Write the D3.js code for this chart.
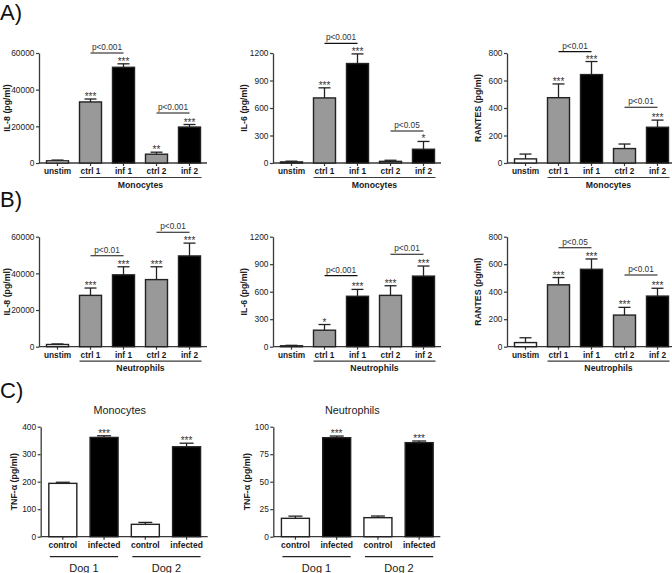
<!DOCTYPE html>
<html><head><meta charset="utf-8">
<script src="https://cdn.jsdelivr.net/npm/d3@7"></script>
<style>
html,body{margin:0;padding:0;background:#fff;}
svg{display:block;font-family:"Liberation Sans",Arial,sans-serif;}
svg text{font-family:"Liberation Sans",Arial,sans-serif;}
</style></head>
<body>
<svg id="chart" width="672" height="573"></svg>
<script>
// ---------- data ----------
const categories = ["unstim", "ctrl 1", "inf 1", "ctrl 2", "inf 2"];
const groupKinds = ["unstim", "ctrl", "inf", "ctrl", "inf"];

const il8Mono = [1200, 33300, 52200, 4800, 19600];
const il8MonoErr = [400, 1600, 1900, 1100, 1400];
const il6Mono = [12, 710, 1085, 18, 150];
const il6MonoErr = [8, 110, 105, 12, 85];
const rantesMono = [30, 475, 643, 105, 260];
const rantesMonoErr = [35, 100, 95, 33, 52];

const il8Neut = [1200, 28000, 39200, 36600, 49500];
const il8NeutErr = [300, 4000, 4400, 7000, 7000];
const il6Neut = [10, 180, 550, 560, 770];
const il6NeutErr = [5, 62, 75, 105, 110];
const rantesNeut = [30, 450, 563, 230, 368];
const rantesNeutErr = [35, 53, 75, 56, 57];

const starsA1 = ["", "***", "***", "**", "***"];
const starsA2 = ["", "***", "***", "", "*"];
const starsA3 = ["", "***", "***", "", "***"];
const starsB1 = ["", "***", "***", "***", "***"];
const starsB2 = ["", "*", "***", "***", "***"];
const starsB3 = ["", "***", "***", "***", "***"];

// brackets: [fromIndex, toIndex, label, level (data units)]
const bracketsA1 = [[1, 2, "p<0.001", 60000], [3, 4, "p<0.001", 27300]];
const bracketsA2 = [[1, 2, "p<0.001", 1305], [3, 4, "p<0.05", 349]];
const bracketsA3 = [[1, 2, "p<0.01", 810], [3, 4, "p<0.01", 405]];
const bracketsB1 = [[1, 2, "p<0.01", 49600], [3, 4, "p<0.01", 62400]];
const bracketsB2 = [[1, 2, "p<0.001", 775], [3, 4, "p<0.01", 1008]];
const bracketsB3 = [[1, 2, "p<0.05", 720], [3, 4, "p<0.01", 521]];

const ticksIL8 = [0, 20000, 40000, 60000];
const ticksIL6 = [0, 300, 600, 900, 1200];
const ticksRANTES = [0, 200, 400, 600, 800];

const tnfCategories = ["control", "infected", "control", "infected"];
const tnfKinds = ["control", "inf", "control", "inf"];
const dogs = ["Dog 1", "Dog 2"];
const tnfMono = [194, 361, 45, 327];
const tnfMonoErr = [4, 6, 7, 13];
const tnfNeut = [16.7, 90, 17.3, 85.5];
const tnfNeutErr = [2, 1.5, 1.5, 1.5];
const tnfStars = ["", "***", "", "***"];
const ticksTNFMono = [0, 100, 200, 300, 400];
const ticksTNFNeut = [0, 25, 50, 75, 100];

// ---------- drawing ----------
const svg = d3.select("#chart");
const AX = "#3a3a3a", TXT = "#1a1a1a";
const fillFor = {unstim: "#fff", control: "#fff", ctrl: "#999", inf: "#000"};

function panel(opt) {
  const g = svg.append("g");
  const y = d3.scaleLinear().domain([0, opt.ymax]).range([opt.zero, opt.zero - 110]);
  const x = d3.scaleBand().domain(d3.range(opt.values.length))
    .range([opt.axisX + opt.r0, opt.axisX + opt.r1]).paddingInner(opt.pad).paddingOuter(opt.pad / 2);
  const bw = opt.bw;
  const cx = i => x(i) + x.bandwidth() / 2;

  // y axis
  const ya = g.append("g").attr("transform", `translate(${opt.axisX},0)`)
    .call(d3.axisLeft(y).tickValues(opt.ticks).tickSize(3).tickPadding(1.5).tickSizeOuter(0).tickFormat(d3.format("d")));
  ya.select(".domain").attr("stroke", AX).attr("stroke-width", 1.3);
  ya.selectAll(".tick line").attr("stroke", AX).attr("stroke-width", 1.2);
  ya.selectAll(".tick text").attr("font-size", 8.4).attr("fill", TXT);

  // x axis
  const xa = g.append("g").attr("transform", `translate(0,${opt.zero})`)
    .call(d3.axisBottom(x).tickSize(3).tickPadding(2).tickSizeOuter(0).tickFormat(i => opt.cats[i]));
  xa.select(".domain").remove();
  xa.selectAll(".tick line").attr("stroke", AX).attr("stroke-width", 1.2);
  xa.selectAll(".tick text").attr("font-size", opt.catSize).attr("font-weight", "bold").attr("fill", TXT);
  g.append("line").attr("x1", opt.axisX).attr("x2", opt.axisX + opt.xEnd)
    .attr("y1", opt.zero).attr("y2", opt.zero).attr("stroke", AX).attr("stroke-width", 1.3);

  // bars
  opt.values.forEach((v, i) => {
    const c = cx(i);
    const top = y(v), et = y(v + opt.err[i]);
    g.append("line").attr("x1", c).attr("x2", c).attr("y1", top).attr("y2", et).attr("stroke", "#222").attr("stroke-width", 1.3);
    g.append("line").attr("x1", c - opt.cap / 2).attr("x2", c + opt.cap / 2).attr("y1", et).attr("y2", et)
      .attr("stroke", "#222").attr("stroke-width", 1.3);
    g.append("rect").attr("x", c - bw / 2).attr("y", top).attr("width", bw).attr("height", opt.zero - top)
      .attr("fill", fillFor[opt.kinds[i]]).attr("stroke", "#222").attr("stroke-width", 1.4);
    if (opt.stars[i]) {
      g.append("text").attr("x", c).attr("y", et + 1).attr("text-anchor", "middle")
        .attr("font-size", 10).attr("fill", "#333").text(opt.stars[i]);
    }
  });

  // brackets
  (opt.brackets || []).forEach(([a, b, lab, lvl]) => {
    const yy = y(lvl);
    g.append("line").attr("x1", cx(a)).attr("x2", cx(b)).attr("y1", yy).attr("y2", yy).attr("stroke", "#111").attr("stroke-width", 1.1);
    g.append("text").attr("x", (cx(a) + cx(b)) / 2).attr("y", yy - 3).attr("text-anchor", "middle")
      .attr("font-size", 8.3).attr("fill", "#333").text(lab);
  });

  // y label
  g.append("text").attr("transform", `translate(${opt.axisX - opt.ylabOff},${opt.zero - 55}) rotate(-90)`)
    .attr("text-anchor", "middle").attr("dominant-baseline", "middle")
    .attr("font-size", 8.8).attr("font-weight", "bold").attr("fill", TXT).text(opt.ylabel);

  return {g, x, y, cx, bw};
}

function abPanel(axisX, zero, vals, err, ticks, ymax, stars, brackets, ylabel, ylabOff, group) {
  const p = panel({axisX, zero, values: vals, err, ticks, ymax, stars, brackets, ylabel, ylabOff,
    cats: categories, kinds: groupKinds, r0: 2, r1: 167, pad: 0.33, bw: 22, cap: 12, xEnd: 168, catSize: 8.3});
  const x1 = p.cx(1) - p.bw / 2, x2 = p.cx(4) + p.bw / 2 + 1;
  p.g.append("line").attr("x1", x1).attr("x2", x2).attr("y1", zero + 14.5).attr("y2", zero + 14.5)
    .attr("stroke", AX).attr("stroke-width", 1.2);
  p.g.append("text").attr("x", (x1 + x2) / 2).attr("y", zero + 24.5).attr("text-anchor", "middle")
    .attr("font-size", 8.7).attr("font-weight", "bold").attr("fill", TXT).text(group);
}

abPanel(39, 163, il8Mono, il8MonoErr, ticksIL8, 60000, starsA1, bracketsA1, "IL-8 (pg/ml)", 31, "Monocytes");
abPanel(273, 163, il6Mono, il6MonoErr, ticksIL6, 1200, starsA2, bracketsA2, "IL-6 (pg/ml)", 28, "Monocytes");
abPanel(507, 163, rantesMono, rantesMonoErr, ticksRANTES, 800, starsA3, bracketsA3, "RANTES (pg/ml)", 28, "Monocytes");
abPanel(39, 346.7, il8Neut, il8NeutErr, ticksIL8, 60000, starsB1, bracketsB1, "IL-8 (pg/ml)", 31, "Neutrophils");
abPanel(273, 346.7, il6Neut, il6NeutErr, ticksIL6, 1200, starsB2, bracketsB2, "IL-6 (pg/ml)", 28, "Neutrophils");
abPanel(507, 346.7, rantesNeut, rantesNeutErr, ticksRANTES, 800, starsB3, bracketsB3, "RANTES (pg/ml)", 28, "Neutrophils");

function cPanel(axisX, vals, err, ticks, ymax, title) {
  const zero = 536.7;
  const p = panel({axisX, zero, values: vals, err, ticks, ymax, stars: tnfStars, brackets: [], ylabel: "TNF-α (pg/ml)", ylabOff: 26,
    cats: tnfCategories, kinds: tnfKinds, r0: 1.5, r1: 166.5, pad: 0.32, bw: 28, cap: 14, xEnd: 167, catSize: 8.5});
  dogs.forEach((d, k) => {
    const x1 = p.cx(2 * k) - p.bw / 2 + 1, x2 = p.cx(2 * k + 1) + p.bw / 2;
    p.g.append("line").attr("x1", x1).attr("x2", x2).attr("y1", zero + 20).attr("y2", zero + 20)
      .attr("stroke", "#222").attr("stroke-width", 1.2);
    p.g.append("text").attr("x", (x1 + x2) / 2).attr("y", zero + 35).attr("text-anchor", "middle")
      .attr("font-size", 11).attr("fill", TXT).text(d);
  });
  p.g.append("text").attr("x", axisX + 79).attr("y", 414).attr("text-anchor", "middle")
    .attr("font-size", 10.8).attr("fill", TXT).text(title);
}
cPanel(40.7, tnfMono, tnfMonoErr, ticksTNFMono, 400, "Monocytes");
cPanel(273.3, tnfNeut, tnfNeutErr, ticksTNFNeut, 100, "Neutrophils");

// panel letters
[["A)", 20], ["B)", 207], ["C)", 398]].forEach(([t, yy]) => {
  svg.append("text").attr("x", 0).attr("y", yy).attr("font-size", 22).attr("fill", "#111").text(t);
});
</script>
</body></html>
